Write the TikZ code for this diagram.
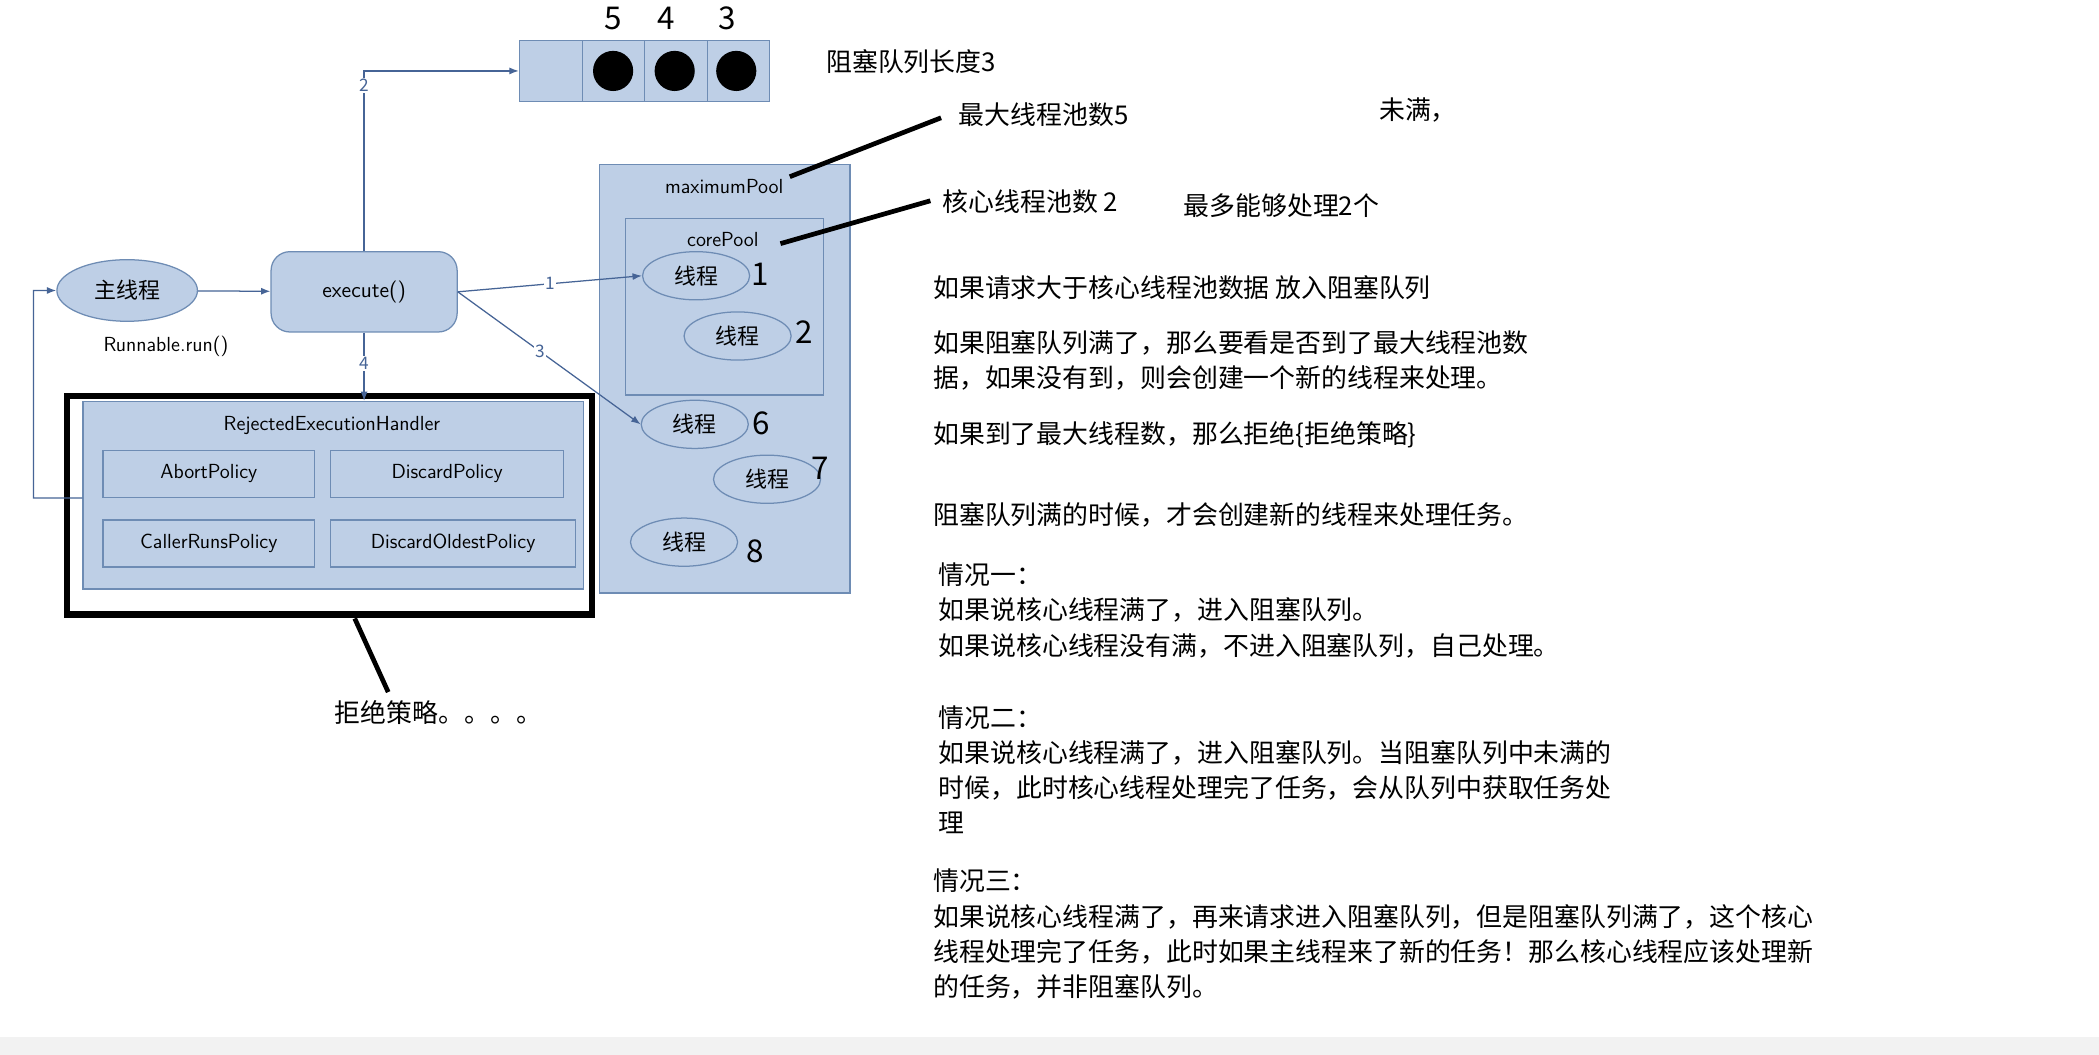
\documentclass[tikz,border=0pt]{standalone}
\usepackage{fontspec}
\setmainfont{Noto Sans CJK SC}
\usetikzlibrary{shapes.geometric,arrows.meta}
\definecolor{boxfill}{RGB}{190,207,230}
\definecolor{boxline}{RGB}{110,140,180}
\definecolor{arrowc}{RGB}{70,100,150}
\tikzset{
  pool/.style={draw=boxline,fill=boxfill,line width=0.8pt},
  thread/.style={ellipse,draw=boxline,fill=boxfill,line width=0.8pt,minimum width=80*0.03cm,minimum height=36*0.03cm,inner sep=0pt,font=\fontsize{14}{16}\selectfont},
  policy/.style={draw=boxline,fill=boxfill,line width=0.8pt,minimum width=158*0.03cm,minimum height=35*0.03cm,inner sep=0pt,font=\sffamily\fontsize{13}{15}\selectfont},
  flow/.style={arrowc,line width=0.8pt,-{Latex[length=6pt]}},
  note/.style={anchor=west,font=\fontsize{16.5}{22.5}\selectfont,align=left,inner sep=0pt},
  hand/.style={font=\itshape\fontsize{20}{20}\selectfont},
  pointer/.style={black,line width=3pt},
  numlab/.style={fill=white,inner sep=1pt,font=\fontsize{11}{12}\selectfont}
}
\begin{document}
\begin{tikzpicture}[x=0.03cm,y=-0.03cm]
\useasboundingbox[fill=white] (0,0) rectangle (1568,788);
\fill[gray!10] (0,775) rectangle (1568,788);
% queue
\node[pool,minimum width=187*0.03cm,minimum height=46*0.03cm,inner sep=0pt] (queue) at (481.5,53) {};
\foreach \x in {435,481,528} \draw[boxline] (\x,30) -- (\x,76);
\foreach \x/\n in {458/a,504/b,550/c} \fill (\x,53) circle (15);
\foreach \x/\n in {458/5,498/4,543/3} \node[hand] at (\x,14) {\n};
\node[note] (qlen) at (617,46) {阻塞队列长度3};
% maximum pool
\node[pool,minimum width=187*0.03cm,minimum height=320*0.03cm,inner sep=0pt] (maxpool) at (541.5,283) {};
\node[font=\sffamily\fontsize{13}{15}\selectfont] (maxlab) at (541,139) {maximumPool};
\node[pool,minimum width=148*0.03cm,minimum height=132*0.03cm,inner sep=0pt] (corepool) at (541,229) {};
\node[font=\sffamily\fontsize{13}{15}\selectfont] (corelab) at (540,179) {corePool};
\node[thread] (t1) at (520,206) {线程};
\node[thread] (t2) at (551,251) {线程};
\node[thread] (t6) at (519,317) {线程};
\node[thread] (t7) at (573,358) {线程};
\node[thread] (t8) at (511,405) {线程};
\node[hand] at (568,205) {1};
\node[hand] at (601,248) {2};
\node[hand] at (569,316) {6};
\node[hand] at (613,350) {7};
\node[hand] at (564,412) {8};
% main thread and execute
\node[ellipse,pool,minimum width=105*0.03cm,minimum height=46*0.03cm,font=\fontsize{14}{16}\selectfont] (main) at (95,217) {主线程};
\node[font=\sffamily\fontsize{13}{15}\selectfont] (runlab) at (124,259) {Runnable.run()};
\node[pool,rounded corners=12pt,minimum width=139*0.03cm,minimum height=60*0.03cm,font=\sffamily\fontsize{14}{16}\selectfont] (exec) at (272,218) {execute()};
% handler
\node[pool,minimum width=374*0.03cm,minimum height=140*0.03cm,inner sep=0pt] (handler) at (249,370) {};
\node[font=\sffamily\fontsize{13}{15}\selectfont] (hlab) at (248,318) {RejectedExecutionHandler};
\node[policy] (abort) at (156,354) {AbortPolicy};
\node[policy,minimum width=174*0.03cm] (discard) at (334,354) {DiscardPolicy};
\node[policy] (caller) at (156,406) {CallerRunsPolicy};
\node[policy,minimum width=183*0.03cm] (oldest) at (338.5,406) {DiscardOldestPolicy};
\draw[black,line width=4pt] (50,296) rectangle (442,459);
% connectors
\draw[flow] (main) -- (exec);
\draw[flow] (exec.east) -- node[numlab,pos=0.5] {1} (t1.west);
\draw[flow] (exec.east) -- node[numlab,pos=0.45] {3} (t6.west);
\draw[flow] (exec.north) -- node[numlab,pos=0.92] {2} (exec.north|-queue.west) -- (queue.west);
\draw[flow] (exec.south) -- node[numlab,pos=0.45] {4} (exec.south|-handler.north);
\draw[flow] (handler.west|-abort.south) -- (25,372) -- (25,217) -- (main.west);
% annotations
\node[note] (maxnum) at (716,86) {最大线程池数5};
\draw[pointer] (590,132) -- (703,88);
\node[note] (notfull) at (1030,82) {未满，};
\node[note] (corenum) at (704,151) {核心线程池数 2};
\draw[pointer] (583,182) -- (695,150);
\node[note] (most) at (884,154) {最多能够处理2个};
\draw[pointer] (265,462) -- (290,517);
\node[note] (reject) at (250,532) {拒绝策略。。。。};
\node[note] at (697,215) {如果请求大于核心线程池数据 放入阻塞队列};
\node[note] at (697,269) {如果阻塞队列满了，那么要看是否到了最大线程池数\\据，如果没有到，则会创建一个新的线程来处理。};
\node[note] at (697,325) {如果到了最大线程数，那么拒绝\{拒绝策略\}};
\node[note] at (697,385) {阻塞队列满的时候，才会创建新的线程来处理任务。};
\node[note] at (701,456) {情况一：\\如果说核心线程满了，进入阻塞队列。\\如果说核心线程没有满，不进入阻塞队列，自己处理。};
\node[note] at (701,575) {情况二：\\如果说核心线程满了，进入阻塞队列。当阻塞队列中未满的\\时候，此时核心线程处理完了任务，会从队列中获取任务处\\理};
\node[note] at (697,698) {情况三：\\如果说核心线程满了，再来请求进入阻塞队列，但是阻塞队列满了，这个核心\\线程处理完了任务，此时如果主线程来了新的任务！那么核心线程应该处理新\\的任务，并非阻塞队列。};
\end{tikzpicture}
\end{document}
